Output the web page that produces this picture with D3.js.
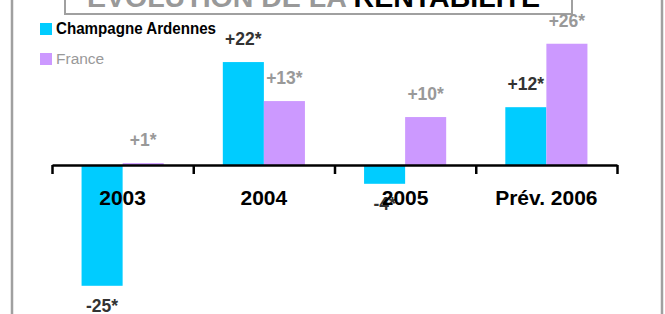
<!DOCTYPE html>
<html>
<head>
<meta charset="utf-8">
<script src="https://cdn.jsdelivr.net/npm/d3@7"></script>
<style>
  body { margin: 0; background: #fff; }
  svg { display: block; font-family: "Liberation Sans", Arial, sans-serif; }
</style>
</head>
<body>
<svg id="chart"></svg>
<script>
// categories and series
const categories = ['2003', '2004', '2005', 'Prév. 2006']
const series = ['Champagne Ardennes', 'France']
const champagneValues = [-25.7, 21.9, -4.0, 12.3]
const franceValues = [0.4, 13.6, 10.2, 25.8]
const champagneLabels = ['-25*', '+22*', '-4*', '+12*']
const franceLabels = ['+1*', '+13*', '+10*', '+26*']

const widthSVG = 665
const heightSVG = 314
const colors = ['#00ccff', '#cc99ff']
const labelColors = ['#333333', '#999999']

let svg = d3.select('#chart')
   .attr('width', widthSVG)
   .attr('height', heightSVG)

// outer frame
svg.append('rect')
   .attr('x', 12).attr('y', -20)
   .attr('width', 650).attr('height', heightSVG + 40)
   .attr('fill', 'none')
   .attr('stroke', '#a0a0a0')
   .attr('stroke-width', 2.5)

// title box (cut at top)
svg.append('rect')
   .attr('x', 65).attr('y', -40)
   .attr('width', 507).attr('height', 54)
   .attr('fill', '#fff')
   .attr('stroke', '#a0a0a0')
   .attr('stroke-width', 2)

let title = svg.append('text')
   .attr('x', 87).attr('y', 7)
   .attr('font-size', 28)
   .attr('font-weight', 'bold')
   .attr('textLength', 453)
   .attr('lengthAdjust', 'spacingAndGlyphs')
title.append('tspan').attr('fill', '#999').text('EVOLUTION DE LA ')
title.append('tspan').attr('fill', '#000').text('RENTABILITE')

// scales
let xScale = d3.scaleBand()
   .domain(categories)
   .range([52, 617])

let xSub = d3.scaleBand()
   .domain(series)
   .range([0, xScale.bandwidth()])
   .paddingOuter(0.72)

let yScale = d3.scaleLinear()
   .domain([-30, 30])
   .range([165 + 141, 165 - 141])

let datos = []
categories.forEach((c, i) => {
   datos.push({cat: c, serie: series[0], v: champagneValues[i], label: champagneLabels[i], k: 0})
   datos.push({cat: c, serie: series[1], v: franceValues[i], label: franceLabels[i], k: 1})
})

// bars
svg.selectAll('rect.bar')
   .data(datos)
   .enter()
   .append('rect')
   .attr('class', 'bar')
   .attr('x', d => xScale(d.cat) + xSub(d.serie))
   .attr('width', xSub.bandwidth())
   .attr('y', d => Math.min(yScale(d.v), yScale(0)))
   .attr('height', d => Math.abs(yScale(d.v) - yScale(0)))
   .attr('fill', d => colors[d.k])

// value labels
svg.selectAll('text.val')
   .data(datos)
   .enter()
   .append('text')
   .attr('class', 'val')
   .attr('x', d => xScale(d.cat) + xSub(d.serie) + xSub.bandwidth() / 2)
   .attr('y', d => d.v >= 0 ? yScale(d.v) - 17 : yScale(d.v) + 26)
   .attr('text-anchor', 'middle')
   .attr('font-size', 17.5)
   .attr('font-weight', 'bold')
   .attr('fill', d => labelColors[d.k])
   .text(d => d.label)

// axis with ticks at category boundaries
let xTicks = d3.scaleLinear().domain([0, categories.length]).range([52, 617])
let xAxis = d3.axisBottom(xTicks)
   .tickValues(d3.range(categories.length + 1))
   .tickSize(9)
   .tickSizeOuter(0)
   .tickFormat('')

let ejeX = svg.append('g')
   .attr('transform', 'translate(0,' + yScale(0) + ')')
   .call(xAxis)
ejeX.select('.domain').attr('stroke', '#000').attr('stroke-width', 2.5)
ejeX.selectAll('.tick line').attr('stroke', '#000').attr('stroke-width', 2.5)

// category labels
svg.selectAll('text.cat')
   .data(categories)
   .enter()
   .append('text')
   .attr('class', 'cat')
   .attr('x', d => xScale(d) + xScale.bandwidth() / 2)
   .attr('y', 205)
   .attr('text-anchor', 'middle')
   .attr('font-size', 21)
   .attr('font-weight', 'bold')
   .attr('fill', '#000')
   .text(d => d)

// legend
let legend = svg.append('g')
legend.selectAll('rect')
   .data(series)
   .enter()
   .append('rect')
   .attr('x', 40)
   .attr('y', (d, i) => 23 + i * 30)
   .attr('width', 12).attr('height', 12)
   .attr('fill', (d, i) => colors[i])

legend.append('text')
   .attr('x', 56).attr('y', 34)
   .attr('font-size', 16)
   .attr('font-weight', 'bold')
   .attr('fill', '#000')
   .attr('textLength', 160)
   .attr('lengthAdjust', 'spacingAndGlyphs')
   .text(series[0])

legend.append('text')
   .attr('x', 56).attr('y', 64)
   .attr('font-size', 15.5)
   .attr('fill', '#999')
   .text(series[1])
</script>
</body>
</html>
